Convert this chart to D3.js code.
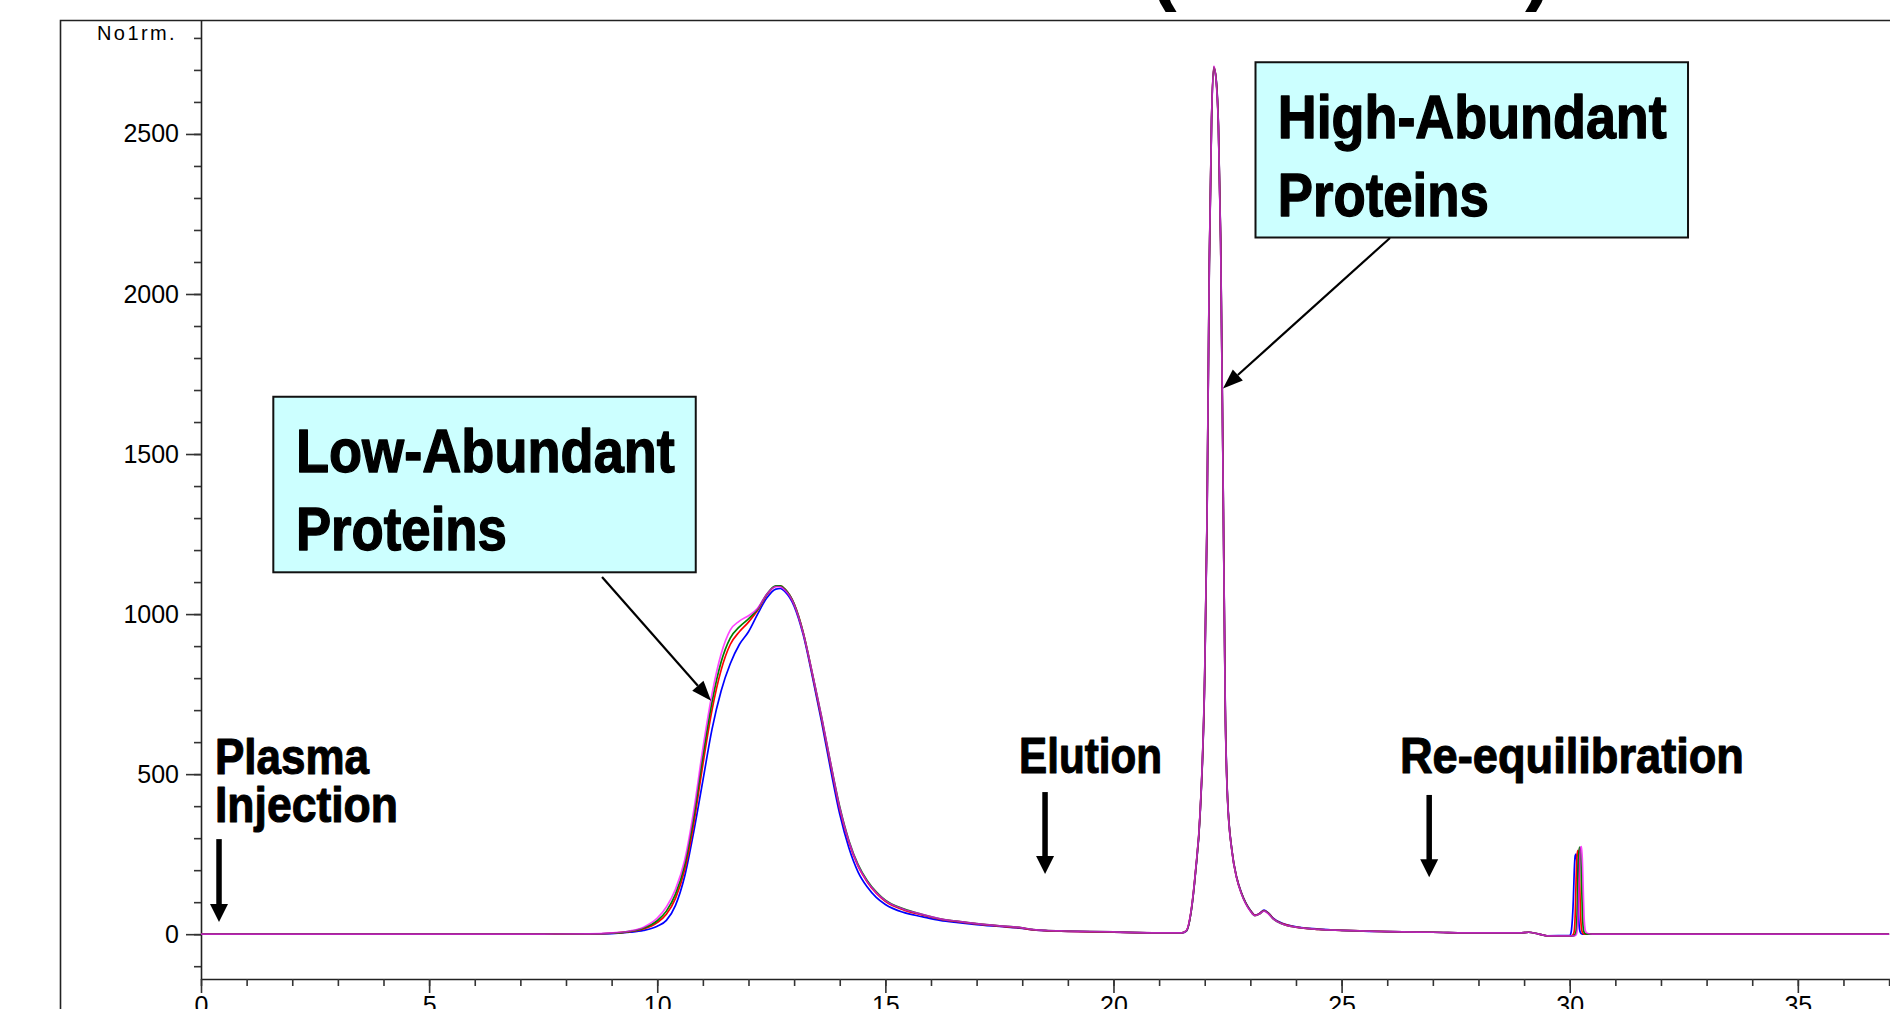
<!DOCTYPE html>
<html><head><meta charset="utf-8">
<script src="https://cdn.jsdelivr.net/npm/d3@7"></script>
<style>
html,body{margin:0;padding:0;background:#fff;overflow:hidden;}
svg{display:block;}
</style></head><body>
<svg id="chart" width="1890" height="1009"></svg>
<script>
// ---- data (retention time in min, normalised absorbance) ----
const times = [
  0, 5, 7.5, 8.5,
  9.0, 9.4, 9.7,
  10.0, 10.2, 10.4, 10.6, 10.8,
  11.0, 11.2, 11.4, 11.6, 11.8,
  12.0, 12.2, 12.4, 12.6, 12.7, 12.8,
  13.0, 13.2, 13.4, 13.6, 13.8,
  14.0, 14.2, 14.4, 14.6, 14.8,
  15.0, 15.4, 15.8, 16.2, 16.6, 17.0, 17.5,
  18.0, 18.2, 18.5, 19.0, 20.0, 21.0,
  21.5, 21.6, 21.7, 21.8, 21.9,
  22.0, 22.05, 22.1, 22.15, 22.2, 22.25, 22.3, 22.35, 22.4, 22.45,
  22.5, 22.6, 22.7, 22.8, 22.9,
  23.0, 23.1, 23.2, 23.3, 23.4, 23.5, 23.7,
  24.0, 24.5, 25, 26, 27, 28,
  28.9, 29.1, 29.3, 29.5,
  30.0, 30.02, 30.04, 30.06, 30.08,
  30.1, 30.12, 30.14, 30.16, 30.18,
  30.2, 30.22, 30.24, 30.26, 30.28,
  30.3, 30.32, 30.35, 30.4, 30.5,
  31, 33, 35, 37
];
const seriesBlue = [
  0, 0, 0.2, 0.5,
  2, 6, 12,
  25, 43, 90, 180, 320,
  480, 640, 760, 845, 905,
  945, 1000, 1050, 1078, 1080, 1070,
  1025, 935, 805, 665, 515,
  375, 270, 195, 148, 115,
  93, 68, 55, 43, 36, 30, 24,
  18, 14, 11, 9, 6, 4,
  4, 10, 68, 195, 378,
  805, 1285, 2085, 2540, 2705, 2672, 2528, 2165, 1465, 715,
  428, 258, 178, 131, 98,
  75, 60, 65, 75, 66, 50, 34,
  23, 16, 12, 8, 6, 4,
  4, 6, 1, -5,
  -4, 0, 15, 50, 110,
  200, 245, 250, 215, 120,
  40, 12, 4, 1, 0,
  0, 0, 0, 0, 0,
  0, 0, 0, 0
];
const seriesRed = [
  0, 0, 0.3, 1,
  3, 8, 16,
  36, 62, 112, 200, 345,
  530, 700, 825, 905, 945,
  975, 1012, 1060, 1087, 1088, 1078,
  1032, 942, 812, 675, 530,
  392, 288, 213, 164, 128,
  103, 76, 60, 47, 39, 32, 25,
  19, 14, 11, 9, 6, 4,
  4, 11, 70, 198, 380,
  810, 1290, 2090, 2545, 2708, 2670, 2525, 2160, 1460, 710,
  425, 257, 177, 130, 97,
  74, 59, 64, 74, 65, 49, 33,
  22, 15, 12, 8, 6, 4,
  4, 6, 1, -5,
  -5, -5, -5, -4, 0,
  10, 60, 170, 245, 262,
  240, 150, 55, 15, 5,
  1, 0, 0, 0, 0,
  0, 0, 0, 0
];
const seriesGreen = [
  0, 0, 0.5, 1,
  3, 9, 19,
  42, 72, 125, 215, 365,
  555, 725, 850, 925, 960,
  985, 1015, 1062, 1088, 1088, 1078,
  1032, 942, 815, 680, 535,
  398, 293, 218, 168, 132,
  106, 79, 62, 48, 40, 33, 26,
  20, 15, 12, 10, 7, 4,
  4, 11, 70, 198, 382,
  815, 1295, 2095, 2548, 2710, 2668, 2522, 2155, 1455, 705,
  422, 256, 176, 129, 96,
  73, 58, 63, 73, 64, 48, 32,
  22, 15, 12, 8, 6, 4,
  4, 6, 1, -5,
  -5, -5, -5, -5, -5,
  -4, 0, 10, 60, 175,
  255, 272, 250, 160, 60,
  15, 5, 1, 0, 0,
  0, 0, 0, 0
];
const seriesMagenta = [
  0, 0, 0.5, 1,
  4, 10, 22,
  50, 85, 140, 230, 385,
  580, 750, 875, 950, 978,
  995, 1018, 1062, 1086, 1085, 1075,
  1030, 940, 815, 680, 535,
  395, 290, 215, 165, 130,
  105, 78, 62, 48, 40, 33, 26,
  20, 15, 12, 10, 7, 4,
  4, 12, 72, 200, 385,
  820, 1300, 2100, 2550, 2712, 2665, 2520, 2150, 1450, 700,
  420, 255, 175, 128, 95,
  72, 58, 63, 72, 63, 48, 32,
  22, 15, 12, 8, 6, 4,
  4, 6, 1, -5,
  -5, -5, -5, -5, -5,
  -5, -4, -2, 8, 40,
  130, 230, 272, 274, 220,
  120, 40, 8, 2, 0,
  0, 0, 0, 0
];
const yMajorTicks = [0, 500, 1000, 1500, 2000, 2500];
const xMajorTicks = [0, 5, 10, 15, 20, 25, 30, 35];
const yUnitLabel = "No1rm.";

// ---- annotations (data coordinates) ----
const boxNotes = [
  {lines:["Low-Abundant","Proteins"], widths:[379,211], t0:1.585, t1:10.844, v0:1679, v1:1130.6,
   tx:2.08, baselines:[1445,1200], from:[8.79,1116], to:[11.18,729]},
  {lines:["High-Abundant","Proteins"], widths:[389,211], t0:23.113, t1:32.593, v0:2724, v1:2176.5,
   tx:23.6, baselines:[2488,2245], from:[26.06,2175], to:[22.40,1705]}
];
const stepNotes = [
  {lines:["Plasma","Injection"], widths:[154,183], tx:0.307, baselines:[500.5,351.5], at:0.395, top:297, tip:38},
  {lines:["Elution"], widths:[143], tx:17.93, baselines:[503.6], at:18.50, top:444, tip:188},
  {lines:["Re-equilibration"], widths:[344], tx:26.28, baselines:[503.6], at:26.92, top:435, tip:178}
];

const svg = d3.select('#chart');
svg.append('rect').attr('width',1890).attr('height',1009).attr('fill','#fff');

const x = d3.scaleLinear().domain([0, 37.02]).range([201, 1890]);
const y = d3.scaleLinear().domain([-140, 2856]).range([979, 20]);

// slide frame
svg.append('path').attr('d','M60.5,1009 V20.5 H1890').attr('fill','none')
  .attr('stroke','#222').attr('stroke-width',1.6);

// cut-off title parentheses
const titleFont = '"Liberation Sans", Arial, sans-serif';
svg.append('text').attr('x',1150).attr('y',-5).attr('font-family',titleFont)
  .attr('font-weight','bold').attr('font-size',80).text('(');
svg.append('text').attr('x',1525).attr('y',-5).attr('font-family',titleFont)
  .attr('font-weight','bold').attr('font-size',80).text(')');

// axes
const axisFont = '"Liberation Sans", Arial, sans-serif';
const gy = svg.append('g').attr('transform','translate(201,0)');
gy.call(d3.axisLeft(y).tickValues(d3.range(-100, 2801, 100)).tickSize(7).tickSizeOuter(0).tickFormat(''));
gy.append('g').call(d3.axisLeft(y).tickValues(yMajorTicks).tickSize(15).tickSizeOuter(0).tickPadding(7).tickFormat(d3.format('d')))
  .select('.domain').remove();
const gx = svg.append('g').attr('transform','translate(0,979)');
gx.call(d3.axisBottom(x).tickValues(d3.range(0, 38, 1)).tickSize(7).tickSizeOuter(0).tickFormat(''));
gx.append('g').call(d3.axisBottom(x).tickValues(xMajorTicks).tickSize(14).tickSizeOuter(0).tickPadding(3).tickFormat(d3.format('d')))
  .select('.domain').remove();
svg.selectAll('.domain').attr('stroke','#222').attr('stroke-width',1.6);
svg.selectAll('.tick line').attr('stroke','#333').attr('stroke-width',1.6);
svg.selectAll('.tick text').attr('font-family',axisFont).attr('font-size',25).attr('fill','#000');

svg.append('text').attr('x',177).attr('y',40).attr('text-anchor','end')
  .attr('font-family',axisFont).attr('font-size',20).attr('letter-spacing',2.4)
  .text(yUnitLabel);

// traces
const series = [
  {values:seriesBlue, color:'#0000ff', op:1},
  {values:seriesRed, color:'#ff0000', op:1},
  {values:seriesGreen, color:'#008000', op:1},
  {values:seriesMagenta, color:'#ff00ff', op:0.72}
];
const line = d3.line().x((d,i)=>x(times[i])).y(d=>y(d)).curve(d3.curveMonotoneX);
svg.append('defs').append('clipPath').attr('id','plotclip')
  .append('rect').attr('x',201).attr('y',20).attr('width',1689).attr('height',959);
const gl = svg.append('g').attr('clip-path','url(#plotclip)');
series.forEach(s=>{
  gl.append('path').attr('d',line(s.values)).attr('fill','none')
    .attr('stroke',s.color).attr('stroke-width',1.7).attr('stroke-opacity',s.op)
    .attr('stroke-linejoin','round');
});

// annotation helpers
const labelFont = '"Liberation Sans Narrow", "Arial Narrow", "Liberation Sans", Arial, sans-serif';
function addLabel(g, txt, px, py, size, width){
  g.append('text').attr('x',px).attr('y',py).attr('font-family',labelFont)
    .attr('font-weight','bold').attr('font-size',size).attr('fill','#000')
    .attr('stroke','#000').attr('stroke-width',size*0.022).attr('stroke-linejoin','round')
    .attr('textLength',width).attr('lengthAdjust','spacingAndGlyphs').text(txt);
}
function thinArrow(g, x0, y0, x1, y1){
  const dx=x1-x0, dy=y1-y0, L=Math.hypot(dx,dy), ux=dx/L, uy=dy/L;
  const hl=20, hw=7.5;
  const bx=x1-ux*hl, by=y1-uy*hl;
  g.append('line').attr('x1',x0).attr('y1',y0).attr('x2',bx).attr('y2',by)
    .attr('stroke','#000').attr('stroke-width',2.2);
  g.append('path').attr('d',`M${x1},${y1} L${bx-uy*hw},${by+ux*hw} L${bx+uy*hw},${by-ux*hw} Z`).attr('fill','#000');
}
const ga = svg.append('g');
boxNotes.forEach(n=>{
  ga.append('rect').attr('x',x(n.t0)).attr('y',y(n.v0))
    .attr('width',x(n.t1)-x(n.t0)).attr('height',y(n.v1)-y(n.v0))
    .attr('fill','#ccffff').attr('stroke','#111').attr('stroke-width',2);
  n.lines.forEach((l,i)=>addLabel(ga,l,x(n.tx),y(n.baselines[i]),62,n.widths[i]));
  thinArrow(ga, x(n.from[0]), y(n.from[1]), x(n.to[0]), y(n.to[1]));
});
stepNotes.forEach(n=>{
  n.lines.forEach((l,i)=>addLabel(ga,l,x(n.tx),y(n.baselines[i]),50,n.widths[i]));
  const ax=x(n.at), yt=y(n.top), yp=y(n.tip), hh=18, hw=9;
  ga.append('line').attr('x1',ax).attr('y1',yt).attr('x2',ax).attr('y2',yp-hh+1)
    .attr('stroke','#000').attr('stroke-width',5.5);
  ga.append('path').attr('d',`M${ax},${yp} L${ax-hw},${yp-hh} L${ax+hw},${yp-hh} Z`).attr('fill','#000');
});
</script>
</body></html>
